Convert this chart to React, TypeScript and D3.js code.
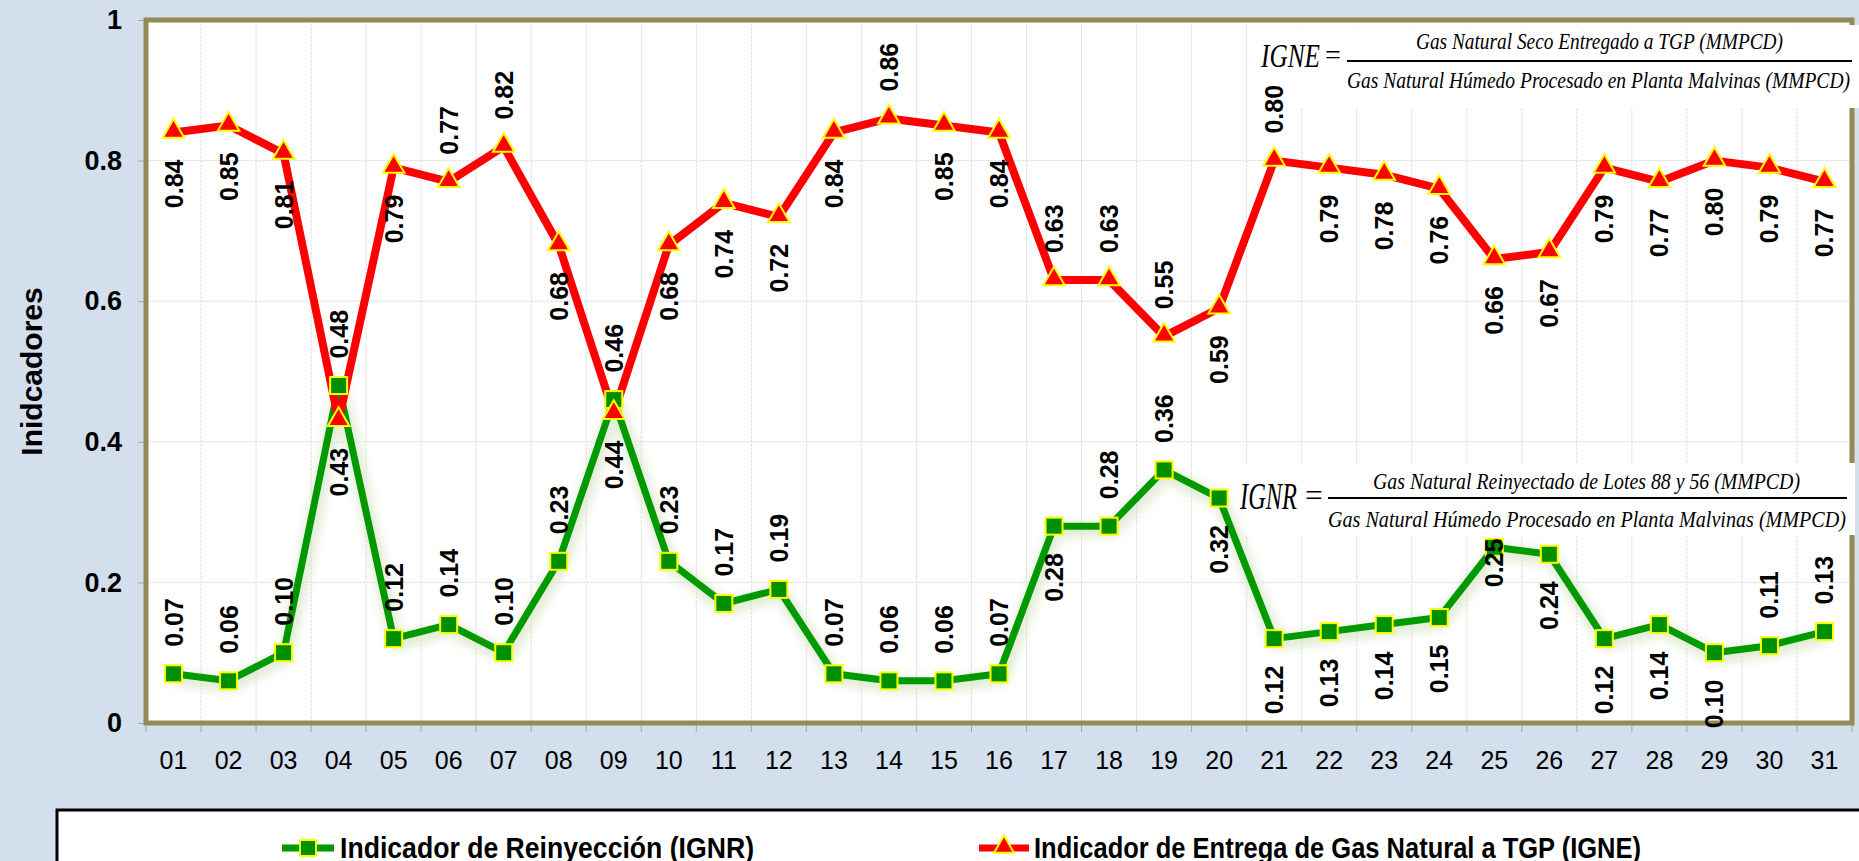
import { useRef, useEffect } from "react";
import * as d3 from "d3";

const days = [
  "01", "02", "03", "04", "05", "06", "07", "08", "09", "10", "11", "12", "13", "14", "15", "16",
  "17", "18", "19", "20", "21", "22", "23", "24", "25", "26", "27", "28", "29", "30", "31",
];

// Indicador de Entrega de Gas Natural a TGP
const igne = [
  0.84, 0.85, 0.81, 0.43, 0.79, 0.77, 0.82, 0.68, 0.44, 0.68, 0.74, 0.72, 0.84, 0.86, 0.85, 0.84,
  0.63, 0.63, 0.55, 0.59, 0.8, 0.79, 0.78, 0.76, 0.66, 0.67, 0.79, 0.77, 0.8, 0.79, 0.77,
];

// Indicador de Reinyeccion
const ignr = [
  0.07, 0.06, 0.1, 0.48, 0.12, 0.14, 0.1, 0.23, 0.46, 0.23, 0.17, 0.19, 0.07, 0.06, 0.06, 0.07,
  0.28, 0.28, 0.36, 0.32, 0.12, 0.13, 0.14, 0.15, 0.25, 0.24, 0.12, 0.14, 0.1, 0.11, 0.13,
];

// label side per point: a = above, b = below
const igneLabelSide = "bbbbbaabbbbbbabbaaababbbbbbbbbb".split("");
const ignrLabelSide = "aaaaaaaaaaaaaaaabaabbbbbabbbbaa".split("");

const yTicks = [0, 0.2, 0.4, 0.6, 0.8, 1];

export default function App() {
  const ref = useRef<HTMLDivElement>(null);

  function init() {
    const el = ref.current!;
    el.innerHTML = "";
    document.body.style.margin = "0";
    document.body.style.overflow = "hidden";

    const W = 1859,
      H = 861;
    const m = { left: 146, right: 1852, top: 20, bottom: 723 };

    const svg = d3
      .select(el)
      .append("svg")
      .attr("width", W)
      .attr("height", H)
      .style("display", "block")
      .style("font-family", "Arial, 'Liberation Sans', sans-serif");

    svg.append("rect").attr("width", W).attr("height", H).attr("fill", "#D3DFEC");

    const x = d3.scaleBand().domain(days).range([m.left, m.right]);
    const cx = (d: string) => x(d)! + x.bandwidth() / 2;
    const y = d3.scaleLinear().domain([0, 1]).range([m.bottom, m.top]);

    // plot area
    svg
      .append("rect")
      .attr("x", m.left)
      .attr("y", m.top)
      .attr("width", m.right - m.left)
      .attr("height", m.bottom - m.top)
      .attr("fill", "#fff");

    // grid
    const grid = svg.append("g").attr("stroke", "#DEDEDE").attr("stroke-width", 1).attr("stroke-dasharray", "3,1");
    days.slice(1).forEach((d) => {
      grid.append("line").attr("x1", x(d)!).attr("x2", x(d)!).attr("y1", m.top).attr("y2", m.bottom);
    });
    yTicks.slice(1, -1).forEach((t) => {
      grid.append("line").attr("x1", m.left).attr("x2", m.right).attr("y1", y(t)).attr("y2", y(t));
    });

    // axes (ticks + labels)
    const yAxis = d3
      .axisLeft(y)
      .tickValues(yTicks)
      .tickSize(8)
      .tickPadding(16)
      .tickFormat((d) => d3.format("")(d as number));
    const gy = svg.append("g").attr("transform", `translate(${m.left},0)`).call(yAxis);
    gy.select(".domain").remove();
    gy.selectAll(".tick line").attr("stroke", "#A6A6A6");
    gy.selectAll(".tick text")
      .attr("font-size", 27)
      .attr("font-weight", "bold")
      .attr("fill", "#000")
      .attr("font-family", "Arial, 'Liberation Sans', sans-serif");

    const xAxis = d3.axisBottom(x).tickSize(0).tickPadding(28);
    const gx = svg.append("g").attr("transform", `translate(0,${m.bottom})`).call(xAxis);
    gx.select(".domain").remove();
    gx.selectAll(".tick text")
      .attr("font-size", 25)
      .attr("fill", "#000")
      .attr("font-family", "Arial, 'Liberation Sans', sans-serif");
    const xt = svg.append("g").attr("stroke", "#A6A6A6");
    [...days.map((d) => x(d)!), m.right].forEach((v) => {
      xt.append("line").attr("x1", v).attr("x2", v).attr("y1", m.bottom).attr("y2", m.bottom + 9);
    });

    // y title
    svg
      .append("text")
      .attr("transform", `translate(42,${(m.top + m.bottom) / 2}) rotate(-90)`)
      .attr("text-anchor", "middle")
      .attr("font-size", 30)
      .attr("font-weight", "bold")
      .text("Inidcadores");

    // border
    svg
      .append("rect")
      .attr("x", m.left)
      .attr("y", m.top)
      .attr("width", m.right - m.left)
      .attr("height", m.bottom - m.top)
      .attr("fill", "none")
      .attr("stroke", "#948A54")
      .attr("stroke-width", 5);

    // formula boxes (sit over the right border)
    const formula = (
      bx: number, by: number, bw: number, bh: number,
      name: string, nameX: number, nameW: number, nameBase: number, nameSize: number,
      eqX: number,
      barX1: number, barX2: number, barY: number,
      num: string, numX1: number, numX2: number, numBase: number,
      den: string, denX1: number, denX2: number, denBase: number, fs: number
    ) => {
      const g = svg.append("g").attr("font-family", "'Liberation Serif', 'DejaVu Serif', serif").attr("font-style", "italic");
      g.append("rect").attr("x", bx).attr("y", by).attr("width", bw).attr("height", bh).attr("fill", "#fff");
      g.append("text").attr("x", nameX).attr("y", nameBase).attr("font-size", nameSize)
        .attr("textLength", nameW).attr("lengthAdjust", "spacingAndGlyphs").text(name);
      g.append("text").attr("x", eqX).attr("y", nameBase - 3).attr("font-size", nameSize * 0.85)
        .attr("font-style", "normal").text("=");
      g.append("line").attr("x1", barX1).attr("x2", barX2).attr("y1", barY).attr("y2", barY)
        .attr("stroke", "#000").attr("stroke-width", 2);
      g.append("text").attr("x", numX1).attr("y", numBase).attr("font-size", fs)
        .attr("textLength", numX2 - numX1).attr("lengthAdjust", "spacingAndGlyphs").text(num);
      g.append("text").attr("x", denX1).attr("y", denBase).attr("font-size", fs)
        .attr("textLength", denX2 - denX1).attr("lengthAdjust", "spacingAndGlyphs").text(den);
    };

    formula(1250, 25, 609, 83, "IGNE", 1261, 59, 67, 33, 1325, 1347, 1852, 61,
      "Gas Natural Seco Entregado a TGP (MMPCD)", 1416, 1783, 49,
      "Gas Natural Húmedo Procesado en Planta Malvinas (MMPCD)", 1347, 1850, 88, 24);
    formula(1233, 463, 622, 72, "IGNR", 1240, 57, 509, 37, 1305, 1328, 1847, 498,
      "Gas Natural Reinyectado de Lotes 88 y 56 (MMPCD)", 1373, 1800, 489,
      "Gas Natural Húmedo Procesado en Planta Malvinas (MMPCD)", 1328, 1846, 527, 24);

    // lines
    const defs = svg.append("defs");
    defs
      .append("filter")
      .attr("id", "glow")
      .attr("x", "-10%").attr("y", "-10%").attr("width", "120%").attr("height", "120%")
      .append("feGaussianBlur")
      .attr("stdDeviation", 4);

    const line = (vals: number[]) =>
      d3
        .line<number>()
        .x((_, i) => cx(days[i]))
        .y((d) => y(d))(vals);

    svg.append("path").attr("d", line(ignr)).attr("transform", "translate(2,4)")
      .attr("fill", "none").attr("stroke", "#D8E6C8").attr("stroke-width", 16)
      .attr("stroke-linejoin", "round").attr("opacity", 0.7).attr("filter", "url(#glow)");

    svg.append("path").attr("d", line(ignr)).attr("fill", "none").attr("stroke", "#009900")
      .attr("stroke-width", 7).attr("stroke-linejoin", "round");
    svg.append("path").attr("d", line(igne)).attr("fill", "none").attr("stroke", "#FF0000")
      .attr("stroke-width", 8).attr("stroke-linejoin", "round");

    const sq = 17;
    svg.append("g").selectAll("rect").data(ignr).join("rect")
      .attr("x", (_, i) => cx(days[i]) - sq / 2)
      .attr("y", (d) => y(d) - sq / 2)
      .attr("width", sq).attr("height", sq)
      .attr("fill", "#008F00").attr("stroke", "#FFFF00").attr("stroke-width", 2);

    const tri = d3.symbol().type(d3.symbolTriangle).size(200);
    svg.append("g").selectAll("path").data(igne).join("path")
      .attr("d", tri)
      .attr("transform", (d, i) => `translate(${cx(days[i])},${y(d) - 1})`)
      .attr("fill", "#FF0000").attr("stroke", "#FFFF00").attr("stroke-width", 2);

    // data labels (vertical); one was dragged onto its point in the original
    const gap = 27;
    const nudge: Record<string, number> = { "ignr-25": 67 };
    const labels = (key: string, vals: number[], side: string[]) => {
      svg.append("g").selectAll("text").data(vals).join("text")
        .attr("transform", (d, i) => {
          const g = gap - (nudge[`${key}-${days[i]}`] || 0);
          const py = side[i] === "a" ? y(d) - g : y(d) + g;
          return `translate(${cx(days[i])},${py}) rotate(-90)`;
        })
        .attr("text-anchor", (_, i) => (side[i] === "a" ? "start" : "end"))
        .attr("dy", "0.36em")
        .attr("font-size", 25)
        .attr("font-weight", "bold")
        .attr("fill", "#000")
        .text((d) => d3.format(".2f")(d));
    };
    labels("igne", igne, igneLabelSide);
    labels("ignr", ignr, ignrLabelSide);

    // legend
    const lg = svg.append("g");
    lg.append("rect").attr("x", 57).attr("y", 810).attr("width", 1830).attr("height", 100)
      .attr("fill", "#fff").attr("stroke", "#000").attr("stroke-width", 3);
    const ly = 848;
    lg.append("line").attr("x1", 282).attr("x2", 334).attr("y1", ly).attr("y2", ly)
      .attr("stroke", "#009900").attr("stroke-width", 7);
    lg.append("rect").attr("x", 308 - 8).attr("y", ly - 8).attr("width", 16).attr("height", 16)
      .attr("fill", "#008F00").attr("stroke", "#FFFF00").attr("stroke-width", 2);
    lg.append("line").attr("x1", 979).attr("x2", 1029).attr("y1", ly).attr("y2", ly)
      .attr("stroke", "#FF0000").attr("stroke-width", 7);
    lg.append("path").attr("d", d3.symbol().type(d3.symbolTriangle).size(170)())
      .attr("transform", `translate(1004,${ly - 1})`)
      .attr("fill", "#FF0000").attr("stroke", "#FFFF00").attr("stroke-width", 2);
    const legendFont = "'Liberation Sans Narrow', 'Arial Narrow', Arial, 'Liberation Sans', sans-serif";
    lg.append("text").attr("x", 340).attr("y", ly + 10).attr("font-size", 29).attr("font-weight", "bold")
      .attr("font-family", legendFont).attr("textLength", 414).attr("lengthAdjust", "spacingAndGlyphs")
      .text("Indicador de Reinyección (IGNR)");
    lg.append("text").attr("x", 1034).attr("y", ly + 10).attr("font-size", 29).attr("font-weight", "bold")
      .attr("font-family", legendFont).attr("textLength", 607).attr("lengthAdjust", "spacingAndGlyphs")
      .text("Indicador de Entrega de Gas Natural a TGP (IGNE)");
  }

  useEffect(init, []);

  return <div ref={ref}></div>;
}
